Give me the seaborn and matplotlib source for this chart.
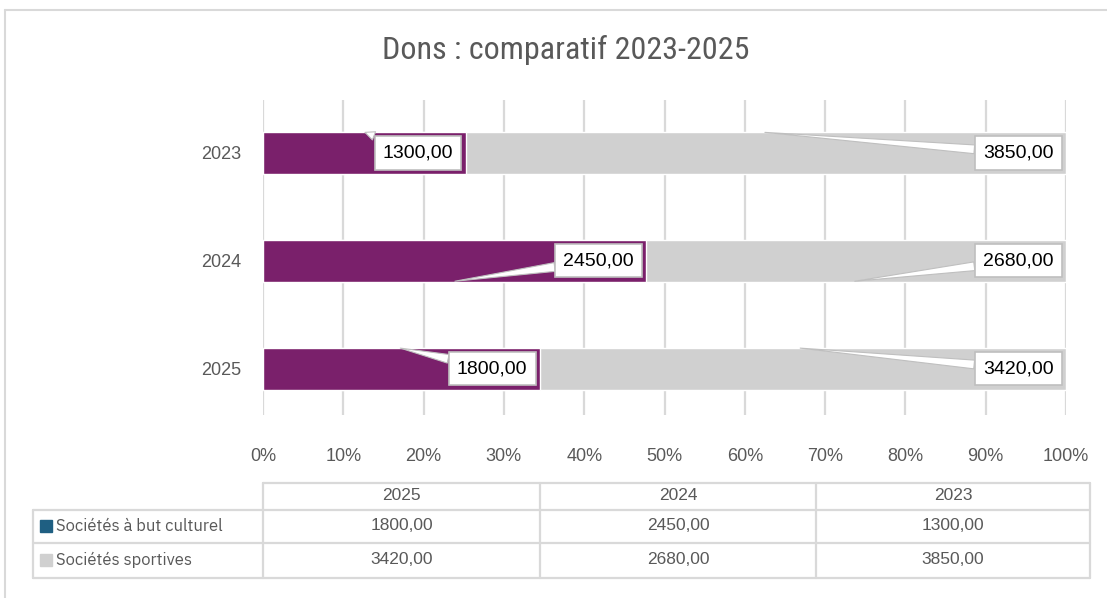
import matplotlib
matplotlib.use("Agg")
import matplotlib.pyplot as plt
import seaborn as sns
import pandas as pd
from matplotlib.lines import Line2D
from matplotlib.patches import Rectangle

years = ["2023", "2024", "2025"]
culturel = [1300.00, 2450.00, 1800.00]
sportives = [3850.00, 2680.00, 3420.00]
series_names = ["Sociétés à but culturel", "Sociétés sportives"]
table_years = ["2025", "2024", "2023"]

purple = "#7A206B"
light_gray = "#D0D0D0"
key_blue = "#1F5F82"
text_gray = "#595959"
grid_gray = "#D9D9D9"

totals = [c + s for c, s in zip(culturel, sportives)]
df = pd.DataFrame({
    "year": years,
    "cult_pct": [100 * c / t for c, t in zip(culturel, totals)],
    "full_pct": [100 * (c + s) / t for c, s, t in zip(culturel, sportives, totals)],
})

sns.set_style("white")
plt.rcParams["font.family"] = ["Liberation Sans", "DejaVu Sans"]

W, H = 1107, 598
fig = plt.figure(figsize=(W / 100, H / 100), dpi=100)

# outer chart border (cropped on right / bottom in the reference)
fig.add_artist(Line2D([5 / W, 5 / W], [0, 1 - 10 / H], color=grid_gray, lw=1.5))
fig.add_artist(Line2D([5 / W, 1], [1 - 10 / H, 1 - 10 / H], color=grid_gray, lw=1.5))

fig.text(566 / W, 1 - 50 / H, "Dons : comparatif 2023-2025", ha="center", va="center",
         fontsize=23, color=text_gray, fontstretch="condensed",
         family=["Roboto Condensed", "DejaVu Sans"])

ax = fig.add_axes([263 / W, 1 - 415 / H, (1066 - 263) / W, (415 - 100) / H])
sns.barplot(data=df, x="full_pct", y="year", orient="h", color=light_gray,
            width=0.39, saturation=1, ax=ax, zorder=2)
sns.barplot(data=df, x="cult_pct", y="year", orient="h", color=purple,
            width=0.39, saturation=1, ax=ax, zorder=3)

ax.set_xlim(0, 100)
ax.set_ylim(2.43, -0.49)
ax.set_xticks(range(0, 101, 10))
ax.set_xticklabels([f"{v}%" for v in range(0, 101, 10)])
ax.grid(axis="x", color=grid_gray, lw=1.6, zorder=0)
ax.set_axisbelow(True)
for s in ax.spines.values():
    s.set_visible(False)
ax.set_xlabel("")
ax.set_ylabel("")
ax.tick_params(axis="x", length=0, pad=24, labelsize=13, labelcolor=text_gray)
ax.tick_params(axis="y", length=0, pad=16, labelsize=13, labelcolor=text_gray)

# data label callouts: (x tip in %, y tip offset from bar centre)
cult_tips = [(12.7, -0.19), (23.9, 0.19), (17.1, -0.19)]
sport_tips = [(62.5, -0.19), (73.7, 0.19), (66.9, -0.19)]

def fmt(v):
    return f"{v:.2f}".replace(".", ",")

box = dict(boxstyle="square,pad=0.42", fc="white", ec="#BFBFBF", lw=1.2)
wedge = dict(arrowstyle="wedge,tail_width=0.45", fc="white", ec="#BFBFBF", lw=0.8,
             shrinkA=0, shrinkB=0)
for i in range(len(years)):
    ends = [df["cult_pct"][i], df["full_pct"][i]]
    vals = [culturel[i], sportives[i]]
    tips = [cult_tips[i], sport_tips[i]]
    for end, val, (tx, ty) in zip(ends, vals, tips):
        ax.annotate(fmt(val), xy=(tx, i + ty), xytext=(end - 1.55, i), ha="right", va="center",
                    fontsize=14, color="black", bbox=box, arrowprops=wedge, zorder=5)

# data table beneath the chart
tab = fig.add_axes([0, 0, 1, 1], zorder=-1)
tab.set_xlim(0, W)
tab.set_ylim(H, 0)
tab.axis("off")
lc = dict(color=grid_gray, lw=1.6)
tab.plot([263, 1090], [483, 483], **lc)
for yy in [510, 543, 578]:
    tab.plot([33, 1090], [yy, yy], **lc)
tab.plot([33, 33], [510, 578], **lc)
col_x = [263, 540, 816, 1090]
for xx in col_x:
    tab.plot([xx, xx], [483, 578], **lc)

row_y = [496, 526, 560]
order = [years.index(y) for y in table_years]
for j, yr in enumerate(table_years):
    cx = (col_x[j] + col_x[j + 1]) / 2
    k = order[j]
    tab.text(cx, row_y[0], yr, ha="center", va="center", fontsize=12.5, color=text_gray)
    tab.text(cx, row_y[1], fmt(culturel[k]), ha="center", va="center", fontsize=12.5, color=text_gray)
    tab.text(cx, row_y[2], fmt(sportives[k]), ha="center", va="center", fontsize=12.5, color=text_gray)

for name, col, yy in zip(series_names, [key_blue, light_gray], row_y[1:]):
    tab.add_patch(Rectangle((40, yy - 6), 12, 12, color=col))
    tab.text(56, yy, name, ha="left", va="center", fontsize=12, color=text_gray,
             family=["IBM Plex Sans", "Noto Sans", "DejaVu Sans"])

fig.savefig("out.png", dpi=100)
